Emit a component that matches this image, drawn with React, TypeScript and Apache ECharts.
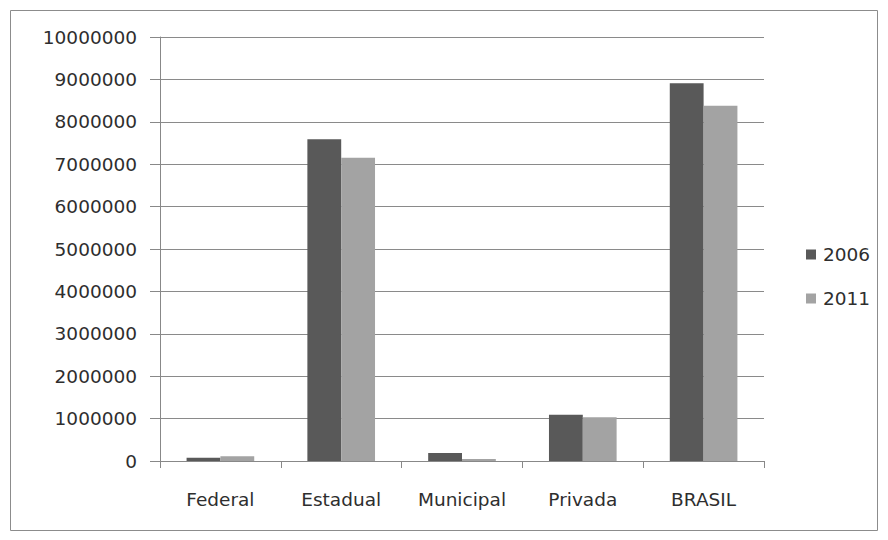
import React, { useEffect, useRef } from "react";
import * as echarts from "echarts";

const categories = ["Federal", "Estadual", "Municipal", "Privada", "BRASIL"];
const values2006 = [75000, 7590000, 190000, 1090000, 8910000];
const values2011 = [110000, 7150000, 50000, 1030000, 8380000];
const seriesNames = ["2006", "2011"];

const FONT = "'DejaVu Sans', 'Open Sans', sans-serif";
const TEXT_COLOR = "#2e2e2e";

export default function App() {
  const ref = useRef<HTMLDivElement>(null);

  useEffect(() => {
    document.body.style.margin = "0";
    const chart = echarts.init(ref.current!, null, { renderer: "svg" });
    chart.setOption({
      animation: false,
      backgroundColor: "#ffffff",
      graphic: [
        {
          type: "rect",
          shape: { x: 10.5, y: 10.5, width: 867, height: 520 },
          style: { fill: "none", stroke: "#8c8c8c", lineWidth: 1 },
          silent: true,
        },
      ],
      grid: { left: 160, right: 124, top: 37, bottom: 79, containLabel: false },
      legend: {
        orient: "vertical",
        left: 801,
        top: 240,
        itemWidth: 10,
        itemHeight: 10,
        itemGap: 25,
        icon: "rect",
        data: seriesNames,
        textStyle: {
          fontFamily: FONT,
          fontSize: 18.5,
          color: TEXT_COLOR,
          padding: [0, 0, 0, 2],
        },
      },
      xAxis: {
        type: "category",
        data: categories,
        axisLine: { lineStyle: { color: "#888", width: 1 } },
        axisTick: { show: true, length: 7, lineStyle: { color: "#888" } },
        axisLabel: { fontFamily: FONT, fontSize: 18.5, color: TEXT_COLOR, margin: 29 },
        splitLine: { show: false },
      },
      yAxis: {
        type: "value",
        min: 0,
        max: 10000000,
        interval: 1000000,
        axisLine: { show: true, lineStyle: { color: "#888", width: 1 } },
        axisTick: { show: true, length: 10, lineStyle: { color: "#888" } },
        axisLabel: {
          fontFamily: FONT,
          fontSize: 18.5,
          color: TEXT_COLOR,
          margin: 23,
          formatter: (v: number) => String(v),
        },
        splitLine: { show: true, lineStyle: { color: "#8a8a8a", width: 1 } },
      },
      series: [
        {
          name: seriesNames[0],
          type: "bar",
          data: values2006,
          itemStyle: { color: "#595959" },
          barGap: "0%",
          barCategoryGap: "44%",
        },
        {
          name: seriesNames[1],
          type: "bar",
          data: values2011,
          itemStyle: { color: "#a3a3a3" },
          barGap: "0%",
          barCategoryGap: "44%",
        },
      ],
    });
    return () => chart.dispose();
  }, []);

  return <div ref={ref} style={{ width: 888, height: 540 }} />;
}
